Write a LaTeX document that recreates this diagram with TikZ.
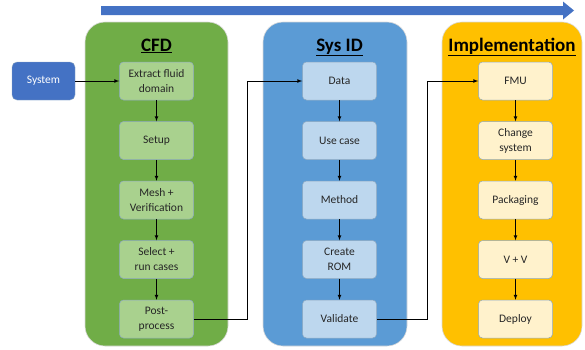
\documentclass[tikz,border=0pt]{standalone}
\usepackage{fontspec}
\setmainfont{Carlito}
\usetikzlibrary{positioning, arrows}

\definecolor{sysblue}{HTML}{4472C4}
\definecolor{cfdgreen}{HTML}{70AD47}
\definecolor{cfdlight}{HTML}{A9D18E}
\definecolor{idblue}{HTML}{5B9BD5}
\definecolor{idlight}{HTML}{BDD7EE}
\definecolor{implgold}{HTML}{FFC000}
\definecolor{impllight}{HTML}{FFF2CC}
\definecolor{boxline}{HTML}{8EA9C1}
\definecolor{txtgray}{HTML}{262626}

\begin{document}
\begin{tikzpicture}[x=1pt, y=-1pt, >=latex, node distance=21pt,
  stage/.style={draw=white!70!gray, line width=0.6pt, rounded corners=20pt},
  stagetitle/.style={anchor=base, font=\fontsize{19}{22}\selectfont\bfseries},
  task/.style={draw=boxline, line width=0.5pt, rectangle, rounded corners=4pt,
    minimum width=74pt, minimum height=38pt, align=center, inner sep=1pt,
    text=txtgray, font=\fontsize{11.5}{15}\selectfont},
  link/.style={->, line width=0.7pt}]
\useasboundingbox (0,0) rectangle (585,349);

% progress arrow
\fill[sysblue] (101,6) -- (563,6) -- (563,1.5) -- (574,10.5) -- (563,19.5) -- (563,15) -- (101,15) -- cycle;

% stages
\draw[stage, fill=cfdgreen] (85,22) rectangle (228,346);
\draw[stage, fill=idblue] (263,22) rectangle (407,346);
\draw[stage, fill=implgold] (442,22) rectangle (582,346);
\node[stagetitle] (tcfd) at (156.5,51) {\underline{CFD}};
\node[stagetitle] (tid) at (339.5,51) {\underline{Sys ID}};
\node[stagetitle] (timpl) at (512,51) {\underline{Implementation}};

\node[draw=boxline, fill=sysblue, rounded corners=5pt, minimum width=63pt, minimum height=38pt, text=white, font=\fontsize{11.5}{15}\selectfont] (system) at (43.5,81) {System};

% CFD
\node[task, fill=cfdlight] (extract) at (156.5,81) {Extract fluid\\domain};
\node[task, fill=cfdlight, below=of extract] (setup) {Setup};
\node[task, fill=cfdlight, below=of setup] (mesh) {Mesh +\\Verification};
\node[task, fill=cfdlight, below=of mesh] (select) {Select +\\run cases};
\node[task, fill=cfdlight, below=of select] (post) {Post-\\process};

% Sys ID
\node[task, fill=idlight] (data) at (339.5,81) {Data};
\node[task, fill=idlight, below=of data] (usecase) {Use case};
\node[task, fill=idlight, below=of usecase] (method) {Method};
\node[task, fill=idlight, below=of method] (rom) {Create\\ROM};
\node[task, fill=idlight, below=of rom] (validate) {Validate};

% Implementation
\node[task, fill=impllight] (fmu) at (515.5,81) {FMU};
\node[task, fill=impllight, below=of fmu] (change) {Change\\system};
\node[task, fill=impllight, below=of change] (pack) {Packaging};
\node[task, fill=impllight, below=of pack] (vv) {V + V};
\node[task, fill=impllight, below=of vv] (deploy) {Deploy};

\draw[link] (system.east) -- (extract.west);
\draw[link] (extract.south) -- (setup.north);
\draw[link] (setup.south) -- (mesh.north);
\draw[link] (mesh.south) -- (select.north);
\draw[link] (select.south) -- (post.north);
\draw[link] (post.east) -- ++(54,0) |- (data.west);
\draw[link] (data.south) -- (usecase.north);
\draw[link] (usecase.south) -- (method.north);
\draw[link] (method.south) -- (rom.north);
\draw[link] (rom.south) -- (validate.north);
\draw[link] (validate.east) -- ++(51,0) |- (fmu.west);
\draw[link] (fmu.south) -- (change.north);
\draw[link] (change.south) -- (pack.north);
\draw[link] (pack.south) -- (vv.north);
\draw[link] (vv.south) -- (deploy.north);
\end{tikzpicture}
\end{document}
